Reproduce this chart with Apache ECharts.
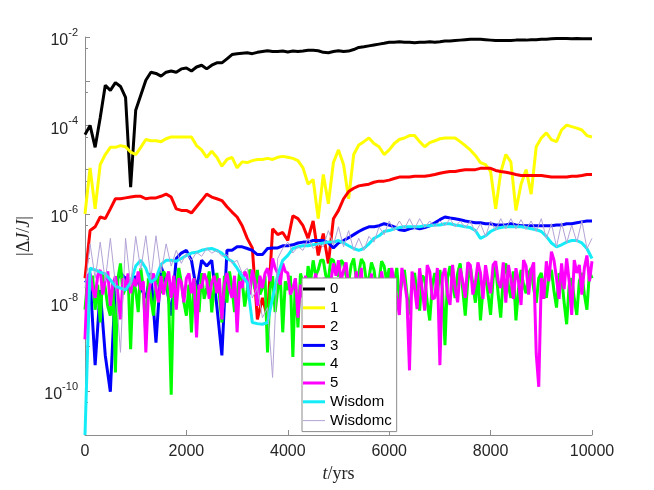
<!DOCTYPE html>
<html>
<head>
<meta charset="utf-8">
<script src="https://cdn.jsdelivr.net/npm/echarts@6/dist/echarts.min.js"></script>
<style>
  html, body { margin: 0; padding: 0; background: #fff; }
  #chart { width: 654px; height: 490px; }
</style>
</head>
<body>
<div id="chart"></div>
<script>
// time grid, yrs (100 yr steps)
const years = [
  0, 100, 200, 300, 400, 500, 600, 700, 800, 900,
  1000, 1100, 1200, 1300, 1400, 1500, 1600, 1700, 1800, 1900,
  2000, 2100, 2200, 2300, 2400, 2500, 2600, 2700, 2800, 2900,
  3000, 3100, 3200, 3300, 3400, 3500, 3600, 3700, 3800, 3900,
  4000, 4100, 4200, 4300, 4400, 4500, 4600, 4700, 4800, 4900,
  5000, 5100, 5200, 5300, 5400, 5500, 5600, 5700, 5800, 5900,
  6000, 6100, 6200, 6300, 6400, 6500, 6600, 6700, 6800, 6900,
  7000, 7100, 7200, 7300, 7400, 7500, 7600, 7700, 7800, 7900,
  8000, 8100, 8200, 8300, 8400, 8500, 8600, 8700, 8800, 8900,
  9000, 9100, 9200, 9300, 9400, 9500, 9600, 9700, 9800, 9900,
  10000
];
// finer grid (50 yr steps) for the two noisiest runs
const yearsFine = [
  0, 50, 100, 150, 200, 250, 300, 350, 400, 450,
  500, 550, 600, 650, 700, 750, 800, 850, 900, 950,
  1000, 1050, 1100, 1150, 1200, 1250, 1300, 1350, 1400, 1450,
  1500, 1550, 1600, 1650, 1700, 1750, 1800, 1850, 1900, 1950,
  2000, 2050, 2100, 2150, 2200, 2250, 2300, 2350, 2400, 2450,
  2500, 2550, 2600, 2650, 2700, 2750, 2800, 2850, 2900, 2950,
  3000, 3050, 3100, 3150, 3200, 3250, 3300, 3350, 3400, 3450,
  3500, 3550, 3600, 3650, 3700, 3750, 3800, 3850, 3900, 3950,
  4000, 4050, 4100, 4150, 4200, 4250, 4300, 4350, 4400, 4450,
  4500, 4550, 4600, 4650, 4700, 4750, 4800, 4850, 4900, 4950,
  5000, 5050, 5100, 5150, 5200, 5250, 5300, 5350, 5400, 5450,
  5500, 5550, 5600, 5650, 5700, 5750, 5800, 5850, 5900, 5950,
  6000, 6050, 6100, 6150, 6200, 6250, 6300, 6350, 6400, 6450,
  6500, 6550, 6600, 6650, 6700, 6750, 6800, 6850, 6900, 6950,
  7000, 7050, 7100, 7150, 7200, 7250, 7300, 7350, 7400, 7450,
  7500, 7550, 7600, 7650, 7700, 7750, 7800, 7850, 7900, 7950,
  8000, 8050, 8100, 8150, 8200, 8250, 8300, 8350, 8400, 8450,
  8500, 8550, 8600, 8650, 8700, 8750, 8800, 8850, 8900, 8950,
  9000, 9050, 9100, 9150, 9200, 9250, 9300, 9350, 9400, 9450,
  9500, 9550, 9600, 9650, 9700, 9750, 9800, 9850, 9900, 9950,
  10000
];

// |dJ/J| per run
const run0 = [
  6.2e-5, 1.0e-4, 3.2e-5, 1.5e-4, 8.1e-4, 6.2e-4, 9.3e-4, 7.6e-4, 4.3e-4, 4.0e-6,
  2.2e-4, 4.8e-4, 1.05e-3, 1.6e-3, 1.5e-3, 1.3e-3, 1.6e-3, 1.7e-3, 1.6e-3, 1.9e-3,
  2.0e-3, 1.7e-3, 2.1e-3, 2.3e-3, 1.9e-3, 2.3e-3, 2.6e-3, 2.6e-3, 3.2e-3, 4.0e-3,
  4.2e-3, 4.3e-3, 4.4e-3, 4.2e-3, 4.5e-3, 4.7e-3, 4.9e-3, 4.7e-3, 4.7e-3, 4.8e-3,
  4.6e-3, 4.8e-3, 4.7e-3, 4.8e-3, 5.0e-3, 5.0e-3, 4.9e-3, 4.5e-3, 4.4e-3, 4.7e-3,
  4.9e-3, 4.7e-3, 4.8e-3, 5.2e-3, 5.8e-3, 6.0e-3, 6.3e-3, 6.6e-3, 6.9e-3, 7.2e-3,
  7.6e-3, 7.6e-3, 7.8e-3, 7.6e-3, 7.6e-3, 7.4e-3, 7.6e-3, 7.6e-3, 7.8e-3, 7.6e-3,
  7.8e-3, 8.1e-3, 8.1e-3, 8.3e-3, 8.5e-3, 8.7e-3, 8.9e-3, 8.9e-3, 8.9e-3, 8.7e-3,
  8.5e-3, 8.3e-3, 8.3e-3, 8.3e-3, 8.3e-3, 8.5e-3, 8.5e-3, 8.5e-3, 8.7e-3, 8.7e-3,
  8.9e-3, 8.9e-3, 9.1e-3, 9.3e-3, 9.3e-3, 9.3e-3, 9.1e-3, 9.3e-3, 9.1e-3, 9.1e-3,
  9.1e-3
];
const run1 = [
  1.0e-6, 1.1e-5, 1.3e-6, 1.3e-5, 2.2e-5, 3.2e-5, 3.2e-5, 3.5e-5, 3.3e-5, 2.5e-5,
  2.2e-5, 3.2e-5, 4.8e-5, 4.5e-5, 4.5e-5, 4.3e-5, 5.0e-5, 5.5e-5, 5.5e-5, 5.5e-5,
  5.5e-5, 5.5e-5, 3.5e-5, 2.8e-5, 1.9e-5, 2.6e-5, 1.9e-5, 1.2e-5, 1.7e-5, 1.9e-5,
  1.1e-5, 1.5e-5, 1.45e-5, 1.6e-5, 1.7e-5, 1.7e-5, 1.8e-5, 1.7e-5, 1.9e-5, 2.0e-5,
  1.9e-5, 1.8e-5, 1.6e-5, 1.1e-5, 4.7e-6, 6.0e-6, 7.8e-7, 7.8e-6, 1.7e-6, 1.45e-5,
  2.8e-5, 1.3e-5, 2.2e-6, 2.2e-5, 3.6e-5, 4.3e-5, 5.2e-5, 3.9e-5, 3.3e-5, 2.2e-5,
  2.8e-5, 3.9e-5, 4.8e-5, 5.2e-5, 5.9e-5, 5.9e-5, 4.3e-5, 3.3e-5, 4.1e-5, 4.5e-5,
  5.0e-5, 5.2e-5, 5.2e-5, 5.2e-5, 4.3e-5, 3.5e-5, 2.8e-5, 2.1e-5, 1.45e-5, 1.3e-5,
  9.1e-6, 1.3e-6, 8.7e-6, 2.2e-5, 1.5e-5, 1.2e-6, 4.7e-6, 1.0e-5, 2.8e-6, 3.3e-5,
  5.2e-5, 6.8e-5, 4.8e-5, 4.3e-5, 7.9e-5, 1.02e-4, 9.4e-5, 8.7e-5, 7.9e-5, 5.9e-5,
  5.5e-5
];
const run2 = [
  3.5e-8, 4.2e-7, 5.1e-7, 8.5e-7, 7.8e-7, 1.3e-6, 2.2e-6, 2.2e-6, 2.3e-6, 2.4e-6,
  2.5e-6, 2.5e-6, 2.2e-6, 2.3e-6, 2.3e-6, 2.5e-6, 2.8e-6, 2.4e-6, 1.3e-6, 1.2e-6,
  1.2e-6, 1.05e-6, 1.45e-6, 2.0e-6, 2.8e-6, 2.4e-6, 2.2e-6, 2.0e-6, 1.45e-6, 1.1e-6,
  8.5e-7, 5.4e-7, 2.8e-7, 1.7e-7, 4.1e-9, 1.26e-8, 4.5e-9, 4.6e-7, 3.4e-7, 3.8e-7,
  2.5e-7, 9.1e-7, 7.8e-7, 5.4e-7, 2.8e-7, 6.9e-7, 1.15e-7, 3.6e-7, 7.6e-8, 7.8e-7,
  1.2e-6, 2.2e-6, 3.2e-6, 3.8e-6, 4.3e-6, 4.5e-6, 4.7e-6, 5.2e-6, 5.5e-6, 5.5e-6,
  5.8e-6, 6.3e-6, 6.8e-6, 6.8e-6, 6.8e-6, 7.1e-6, 7.1e-6, 7.1e-6, 7.4e-6, 7.8e-6,
  8.3e-6, 8.7e-6, 9.1e-6, 9.1e-6, 9.6e-6, 1.0e-5, 1.0e-5, 1.0e-5, 1.07e-5, 1.07e-5,
  1.07e-5, 9.6e-6, 9.1e-6, 8.7e-6, 8.3e-6, 7.8e-6, 7.4e-6, 7.4e-6, 7.4e-6, 7.4e-6,
  7.4e-6, 7.1e-6, 6.8e-6, 6.8e-6, 6.8e-6, 6.8e-6, 7.1e-6, 7.1e-6, 7.4e-6, 7.8e-6,
  7.8e-6
];
const run3 = [
  2.8e-8, 3.5e-8, 3.8e-10, 1.9e-8, 6.3e-10, 9.5e-11, 2.8e-8, 4.6e-8, 3.5e-8, 2.3e-8,
  3.9e-8, 2.1e-8, 1.26e-8, 4.6e-8, 1.23e-9, 6.6e-8, 2.8e-8, 5.0e-9, 9.8e-8, 1.3e-7,
  1.5e-7, 8.9e-8, 1.9e-8, 8.9e-8, 6.6e-8, 8.9e-8, 8.3e-9, 6.3e-10, 1.5e-7, 1.5e-7,
  1.8e-7, 1.8e-7, 1.65e-7, 1.5e-7, 1.2e-7, 1.2e-7, 1.65e-7, 1.7e-7, 1.7e-7, 1.9e-7,
  1.9e-7, 2.0e-7, 2.2e-7, 2.3e-7, 2.3e-7, 2.5e-7, 2.5e-7, 2.5e-7, 2.2e-7, 1.7e-7,
  2.2e-7, 2.5e-7, 2.9e-7, 3.4e-7, 4.0e-7, 4.6e-7, 5.1e-7, 5.1e-7, 5.4e-7, 6.0e-7,
  5.6e-7, 5.1e-7, 4.4e-7, 4.2e-7, 4.6e-7, 4.9e-7, 4.6e-7, 4.9e-7, 5.4e-7, 6.3e-7,
  7.4e-7, 8.5e-7, 8.1e-7, 7.8e-7, 7.4e-7, 6.9e-7, 6.6e-7, 6.3e-7, 6.3e-7, 6.0e-7,
  6.0e-7, 5.6e-7, 5.6e-7, 5.6e-7, 6.0e-7, 5.6e-7, 5.4e-7, 5.4e-7, 5.4e-7, 5.4e-7,
  5.4e-7, 5.4e-7, 5.4e-7, 5.6e-7, 5.6e-7, 6.0e-7, 6.0e-7, 6.3e-7, 6.6e-7, 6.9e-7,
  6.9e-7
];
// run 4 on the 50 yr grid
const run4 = [
  6.8e-9, 3.0e-8, 2.1e-8, 4.0e-8, 6.8e-9, 2.5e-8, 3.5e-9, 4.5e-8, 2.1e-8, 8.0e-9,
  5.0e-9, 3.0e-8, 2.6e-10, 3.5e-8, 7.6e-8, 1.5e-8, 2.1e-8, 4.0e-8, 8.7e-10, 3.0e-8,
  1.9e-8, 6.0e-9, 5.9e-8, 2.0e-8, 1.8e-9, 3.5e-8, 1.26e-8, 5.0e-9, 2.3e-8, 4.5e-8,
  1.6e-8, 5.0e-8, 3.9e-8, 1.2e-8, 8.1e-11, 3.0e-8, 1.9e-8, 6.0e-8, 2.8e-8, 1.0e-8,
  5.0e-9, 2.5e-8, 2.1e-9, 3.5e-8, 1.6e-8, 6.0e-9, 4.6e-8, 1.2e-8, 2.1e-8, 5.0e-8,
  5.9e-9, 2.5e-8, 4.6e-8, 1.5e-8, 3.5e-9, 4.0e-8, 9.8e-9, 5.0e-8, 2.1e-8, 6.0e-9,
  1.4e-8, 5.0e-8, 3.2e-8, 8.0e-9, 1.9e-8, 5.5e-8, 4.6e-8, 2.0e-8, 5.4e-8, 1.5e-8,
  2.1e-8, 4.0e-8, 7.4e-10, 2.0e-8, 3.9e-8, 6.0e-9, 1.9e-8, 4.5e-8, 2.1e-9, 3.0e-8,
  1.9e-8, 4.0e-8, 5.8e-10, 3.5e-8, 2.7e-9, 4.5e-8, 2.8e-8, 1.2e-8, 6.6e-8, 3.0e-8,
  8.9e-8, 4.0e-8, 5.4e-8, 9.0e-8, 8.9e-8, 4.0e-8, 3.2e-8, 9.5e-8, 8.9e-8, 5.0e-8,
  3.9e-8, 9.0e-8, 7.6e-8, 4.0e-8, 2.8e-8, 7.0e-8, 9.8e-8, 3.5e-8, 4.6e-8, 9.5e-8,
  7.6e-8, 3.0e-8, 3.5e-8, 8.0e-8, 5.4e-8, 2.0e-8, 2.8e-8, 8.5e-8, 6.6e-8, 3.0e-8,
  5.9e-8, 2.0e-8, 2.8e-8, 6.0e-8, 1.15e-8, 3.0e-8, 5.4e-8, 1.5e-8, 5.2e-9, 3.0e-8,
  4.6e-8, 1.5e-8, 6.5e-9, 4.0e-8, 3.5e-8, 1.0e-8, 3.9e-9, 2.5e-8, 4.6e-8, 1.5e-8,
  5.4e-8, 2.0e-8, 1.07e-9, 3.5e-8, 6.6e-8, 2.5e-8, 1.26e-8, 4.5e-8, 7.6e-8, 2.0e-8,
  5.0e-9, 3.0e-8, 6.6e-8, 2.5e-8, 9.8e-9, 5.0e-8, 3.9e-9, 2.0e-8, 4.6e-8, 1.5e-8,
  5.2e-9, 3.5e-8, 6.6e-8, 1.5e-8, 4.5e-9, 4.0e-8, 7.6e-8, 2.5e-8, 1.26e-8, 5.0e-8,
  3.9e-9, 2.0e-8, 5.4e-8, 2.5e-8, 1.6e-8, 4.5e-8, 5.9e-8, 2.0e-8, 9.8e-9, 3.5e-8,
  4.6e-8, 2.0e-8, 1.26e-8, 4.0e-8, 5.4e-8, 1.8e-8, 7.6e-9, 4.5e-8, 3.9e-8, 1.0e-8,
  3.2e-9, 2.5e-8, 3.5e-8, 1.2e-8, 5.2e-9, 3.0e-8, 4.6e-8, 1.5e-8, 6.8e-9, 5.0e-8,
  3.5e-8
];
// run 5 on the 50 yr grid
const run5 = [
  1.45e-9, 4.0e-8, 4.6e-8, 2.0e-8, 1.26e-8, 4.0e-8, 5.4e-8, 1.5e-8, 3.2e-8, 5.0e-8,
  8.3e-9, 2.5e-8, 3.9e-8, 1.5e-8, 4.1e-9, 3.5e-8, 2.1e-8, 4.5e-8, 1.6e-8, 3.5e-8,
  2.3e-8, 5.0e-8, 1.9e-8, 3.0e-8, 7.4e-10, 1.5e-8, 3.2e-8, 4.5e-8, 2.1e-8, 1.0e-8,
  3.9e-8, 1.5e-8, 3.2e-8, 5.0e-8, 1.26e-8, 4.0e-8, 6.8e-9, 3.5e-8, 2.8e-8, 1.0e-8,
  3.5e-8, 4.5e-8, 1.6e-8, 3.5e-8, 1.6e-9, 2.5e-8, 2.1e-8, 4.5e-8, 3.2e-8, 1.2e-8,
  2.8e-8, 4.0e-8, 1.6e-8, 3.5e-8, 4.1e-9, 2.5e-8, 4.6e-8, 2.0e-8, 1.26e-8, 4.0e-8,
  2.1e-9, 3.0e-8, 2.1e-8, 5.0e-8, 3.9e-8, 1.5e-8, 5.4e-8, 3.0e-8, 8.3e-9, 4.0e-8,
  2.1e-8, 4.5e-8, 5.9e-8, 3.0e-8, 9.8e-8, 6.0e-8, 4.6e-8, 2.5e-8, 7.6e-8, 5.0e-8,
  4.6e-8, 1.5e-8, 2.1e-8, 3.5e-8, 4.5e-9, 2.5e-8, 1.26e-8, 4.0e-8, 3.5e-9, 1.5e-8,
  2.1e-8, 4.5e-8, 1.26e-8, 6.0e-9, 3.5e-8, 3.0e-8, 7.6e-9, 3.0e-8, 7.6e-8, 4.0e-8,
  8.9e-8, 3.0e-8, 5.4e-8, 8.0e-8, 2.1e-8, 3.0e-8, 7.6e-9, 5.0e-8, 1.6e-8, 6.0e-8,
  4.5e-9, 3.5e-8, 1.26e-8, 4.5e-8, 2.7e-9, 3.0e-8, 9.8e-9, 5.0e-8, 2.1e-8, 6.0e-9,
  1.26e-8, 6.0e-8, 2.8e-8, 1.2e-8, 5.2e-9, 6.0e-8, 3.0e-8, 1.2e-8, 2.9e-10, 5.0e-8,
  2.1e-8, 7.0e-9, 5.9e-8, 2.0e-8, 6.5e-9, 7.0e-8, 5.0e-8, 1.2e-8, 1.26e-8, 6.0e-8,
  3.8e-10, 4.0e-8, 5.9e-8, 1.5e-8, 8.7e-9, 7.0e-8, 2.1e-8, 1.0e-8, 5.9e-8, 3.0e-8,
  1.26e-8, 8.0e-8, 6.9e-8, 1.5e-8, 2.8e-8, 8.0e-8, 4.6e-8, 1.2e-8, 6.9e-8, 3.0e-8,
  1.6e-8, 7.0e-8, 8.5e-8, 3.0e-8, 2.1e-8, 8.0e-8, 9.8e-9, 7.0e-8, 3.5e-8, 1.2e-8,
  5.9e-8, 3.0e-8, 8.7e-9, 9.0e-8, 6.6e-8, 1.5e-8, 5.4e-8, 8.0e-8, 6.8e-10, 1.23e-10,
  3.5e-8, 1.2e-8, 8.5e-8, 3.0e-8, 1.4e-7, 9.0e-8, 3.5e-8, 1.2e-8, 7.6e-8, 2.0e-8,
  9.8e-8, 3.0e-8, 5.2e-9, 9.0e-8, 4.6e-8, 7.0e-8, 1.5e-8, 6.0e-8, 1.15e-7, 3.0e-8,
  8.5e-8
];
const wisdom = [
  1e-11, 5.9e-8, 5.4e-8, 4.8e-8, 4.4e-8, 3.2e-8, 2.3e-8, 2.1e-8, 1.9e-8, 2.8e-8,
  6.6e-8, 8.9e-8, 5.9e-8, 2.8e-8, 3.5e-8, 7.2e-8, 8.9e-8, 8.9e-8, 8.5e-8, 9.8e-8,
  1.15e-7, 1.3e-7, 1.35e-7, 1.5e-7, 1.6e-7, 1.65e-7, 1.5e-7, 1.3e-7, 9.8e-8, 8.5e-8,
  5.9e-8, 3.9e-8, 2.8e-8, 3.5e-9, 3.3e-9, 3.2e-9, 3.5e-9, 1.26e-8, 4.1e-8, 8.9e-8,
  1.15e-7, 1.65e-7, 1.8e-7, 1.9e-7, 1.9e-7, 2.0e-7, 2.1e-7, 2.2e-7, 2.3e-7, 2.3e-7,
  2.5e-7, 2.2e-7, 1.9e-7, 1.65e-7, 1.5e-7, 1.65e-7, 2.1e-7, 2.8e-7, 3.2e-7, 4.0e-7,
  4.2e-7, 4.6e-7, 4.9e-7, 5.1e-7, 5.1e-7, 5.1e-7, 5.1e-7, 5.4e-7, 5.4e-7, 5.6e-7,
  5.6e-7, 6.0e-7, 6.0e-7, 5.6e-7, 5.4e-7, 5.1e-7, 4.9e-7, 4.2e-7, 2.8e-7, 3.2e-7,
  4.0e-7, 4.6e-7, 4.9e-7, 5.1e-7, 5.1e-7, 5.1e-7, 5.1e-7, 4.9e-7, 4.6e-7, 4.4e-7,
  4.0e-7, 3.1e-7, 2.2e-7, 1.8e-7, 2.0e-7, 2.3e-7, 2.5e-7, 2.5e-7, 2.2e-7, 1.65e-7,
  9.8e-8
];
const wisdomc = [
  2.1e-8, 2.1e-7, 3.5e-8, 2.3e-7, 3.0e-8, 2.8e-7, 2.6e-8, 7.4e-10, 2.8e-7, 2.3e-8,
  3.1e-7, 5.4e-8, 3.2e-7, 3.5e-8, 3.2e-7, 4.6e-8, 2.1e-7, 6.6e-8, 1.5e-7, 7.6e-8,
  1.3e-7, 8.9e-8, 1.35e-7, 1.1e-7, 1.65e-7, 1.3e-7, 1.5e-7, 1.1e-7, 1.2e-7, 7.6e-8,
  8.9e-8, 4.6e-8, 5.9e-8, 1.26e-8, 2.1e-8, 4.5e-9, 7.6e-9, 2.0e-10, 9.8e-8, 1.65e-7,
  2.3e-7, 1.3e-7, 1.8e-7, 1.5e-7, 2.8e-7, 1.65e-7, 2.1e-7, 1.8e-7, 4.2e-7, 2.0e-7,
  5.1e-7, 1.8e-7, 4.2e-7, 1.5e-7, 2.8e-7, 1.5e-7, 3.1e-7, 2.3e-7, 5.1e-7, 3.4e-7,
  6.9e-7, 4.2e-7, 6.9e-7, 4.6e-7, 7.8e-7, 4.6e-7, 7.8e-7, 4.9e-7, 6.9e-7, 5.1e-7,
  6.9e-7, 5.4e-7, 7.8e-7, 5.1e-7, 6.9e-7, 4.9e-7, 6.9e-7, 3.8e-7, 6.0e-7, 3.1e-7,
  6.9e-7, 4.2e-7, 7.8e-7, 4.6e-7, 7.8e-7, 4.6e-7, 7.4e-7, 4.4e-7, 6.9e-7, 4.0e-7,
  7.8e-7, 2.8e-7, 6.0e-7, 1.8e-7, 6.3e-7, 2.2e-7, 5.6e-7, 2.3e-7, 6.9e-7, 1.65e-7,
  2.8e-7
];

const names = ['0', '1', '2', '3', '4', '5', 'Wisdom', 'Wisdomc'];
const runs = [run0, run1, run2, run3, run4, run5, wisdom, wisdomc];
const grids = [years, years, years, years, yearsFine, yearsFine, years, years];
const colors = ['#000000', '#ffff00', '#ff0000', '#0000ff', '#00ff00', '#ff00ff', '#14ecf8', '#b3a3d6'];
const widths = [3, 3, 3, 3, 3, 3, 3, 1];

const chart = echarts.init(document.getElementById('chart'));

const series = names.map(function (name, k) {
    return {
        name: name,
        type: 'line',
        data: grids[k].map(function (t, i) { return [t, runs[k][i]]; }),
        symbol: 'none',
        lineStyle: { color: colors[k], width: widths[k] },
        itemStyle: { color: colors[k] },
        animation: false
    };
});

// legend entries: a thin swatch for the thin Wisdomc line
const legendData = names.map(function (n, k) {
    return widths[k] < 2 ? { name: n, icon: 'path://M0,0H22V1H0Z' } : { name: n };
});

const option = {
    backgroundColor: '#fff',
    grid: { left: 85, right: 62, top: 37, bottom: 55, outerBoundsMode: 'none' },
    legend: {
        orient: 'vertical',
        left: 302,
        top: 278,
        data: legendData,
        icon: 'rect',
        symbolKeepAspect: true,
        itemWidth: 22,
        itemHeight: 3,
        itemGap: 2.8,
        padding: [3, 5, 3, 1],
        backgroundColor: '#fff',
        borderColor: '#8c8c8c',
        borderWidth: 1,
        borderRadius: 0,
        textStyle: { fontFamily: 'Liberation Sans', fontSize: 15, color: '#000', lineHeight: 16 }
    },
    xAxis: {
        type: 'value',
        min: 0,
        max: 10000,
        interval: 2000,
        name: '{i|t}/yrs',
        nameLocation: 'middle',
        nameGap: 25,
        nameTextStyle: {
            fontFamily: 'Liberation Serif', fontSize: 18, color: '#262626',
            rich: { i: { fontFamily: 'Liberation Serif', fontStyle: 'italic', fontSize: 18, color: '#262626' } }
        },
        axisLine: { lineStyle: { color: '#8c8c8c', width: 1 } },
        axisTick: { inside: true, length: 5, lineStyle: { color: '#8c8c8c' } },
        axisLabel: {
            fontFamily: 'Liberation Sans', fontSize: 16, color: '#262626', margin: 9,
            formatter: function (v) { return String(v); }
        },
        splitLine: { show: false }
    },
    yAxis: {
        type: 'log',
        logBase: 10,
        min: 1e-11,
        max: 1e-2,
        splitNumber: 5,
        name: '|{g|Δ}{i|J}/{i|J}|',
        nameLocation: 'middle',
        nameRotate: 90,
        nameGap: 51,
        nameTextStyle: {
            fontFamily: 'Liberation Serif', fontSize: 18, color: '#262626',
            rich: {
                i: { fontFamily: 'Liberation Serif', fontStyle: 'italic', fontSize: 18, color: '#262626' },
                g: { fontFamily: 'Liberation Serif', fontSize: 18, color: '#262626' }
            }
        },
        axisLine: { show: true, lineStyle: { color: '#8c8c8c', width: 1 } },
        axisTick: { inside: true, length: 5, lineStyle: { color: '#8c8c8c' } },
        minorTick: { show: true, splitNumber: 2, length: 3, lineStyle: { color: '#8c8c8c' } },
        splitLine: { show: false },
        axisLabel: {
            margin: 7,
            showMinLabel: false,
            formatter: function (v) {
                const e = Math.round(Math.log10(v));
                if (e % 2 !== 0) return '';
                return '{b|10}{s|' + e + '}';
            },
            rich: {
                b: { fontFamily: 'Liberation Sans', fontSize: 16, color: '#262626', padding: [8, 0, 0, 0] },
                s: { fontFamily: 'Liberation Sans', fontSize: 11, color: '#262626', padding: [0, 0, 8, 0] }
            }
        }
    },
    series: series
};

chart.setOption(option);
</script>
</body>
</html>
